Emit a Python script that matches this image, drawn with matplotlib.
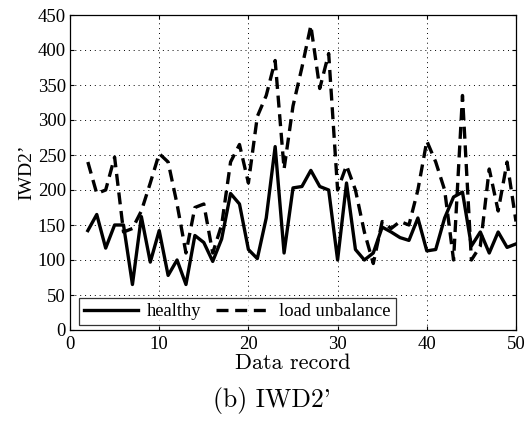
import matplotlib

matplotlib.use("Agg")
import matplotlib.pyplot as plt
from matplotlib.ticker import MultipleLocator

records = list(range(2, 51))
healthy = [142, 165, 117, 150, 150, 65, 162, 97, 142, 78,
           100, 65, 135, 125, 98, 130, 195, 180, 115, 102,
           160, 262, 110, 203, 205, 228, 205, 200, 100, 210,
           115, 100, 110, 147, 140, 132, 128, 160, 113, 115,
           160, 190, 197, 120, 140, 110, 140, 118, 123]
unbalance = [240, 195, 200, 247, 140, 145, 170, 210, 252, 240,
             180, 110, 175, 180, 110, 150, 240, 265, 210, 305,
             335, 385, 230, 320, 375, 435, 345, 395, 200, 235,
             200, 140, 95, 155, 145, 155, 150, 200, 270, 240,
             200, 100, 335, 100, 120, 230, 170, 240, 155]

serif = ["Liberation Serif", "DejaVu Serif"]
cm = ["cmr10", "DejaVu Serif"]
plt.rcParams["font.family"] = serif

fig = plt.figure(figsize=(5.27, 4.26), dpi=100)
ax = fig.add_axes([70 / 527, 96 / 426, 446 / 527, 315 / 426])

ax.plot(records, healthy, color="black", lw=2.4, ls="-", label="healthy")
ax.plot(records, unbalance, color="black", lw=2.4, ls=(0, (3.6, 2.0)),
        label="load unbalance")

ax.set_xlim(0, 50)
ax.set_ylim(0, 450)
ax.xaxis.set_major_locator(MultipleLocator(10))
ax.yaxis.set_major_locator(MultipleLocator(50))
ax.grid(True, color="black", ls=(0, (1, 4)), lw=0.7)
ax.tick_params(direction="in", length=3, width=0.8, top=True, right=True,
               labelsize=13.5)
ax.tick_params(axis="y", pad=3)
ax.tick_params(axis="x", pad=4)
for s in ax.spines.values():
    s.set_linewidth(0.9)

ax.set_xlabel("Data record", fontsize=16, family=cm, labelpad=1)
ax.set_ylabel("IWD2’", fontsize=14, labelpad=2)

leg = ax.legend(loc="lower left", ncol=2, prop={"size": 13.3},
                frameon=True, fancybox=False, edgecolor="black",
                handlelength=2.9, columnspacing=0.8, handletextpad=0.5,
                borderpad=0.28, borderaxespad=0, bbox_to_anchor=(0.02, 0.015))
leg.get_frame().set_linewidth(0.9)

fig.text(272 / 527, 1 - 401 / 426, "(b) IWD2'", ha="center", va="center",
         fontsize=18.5, family=cm)

fig.savefig("out.png", dpi=100)
